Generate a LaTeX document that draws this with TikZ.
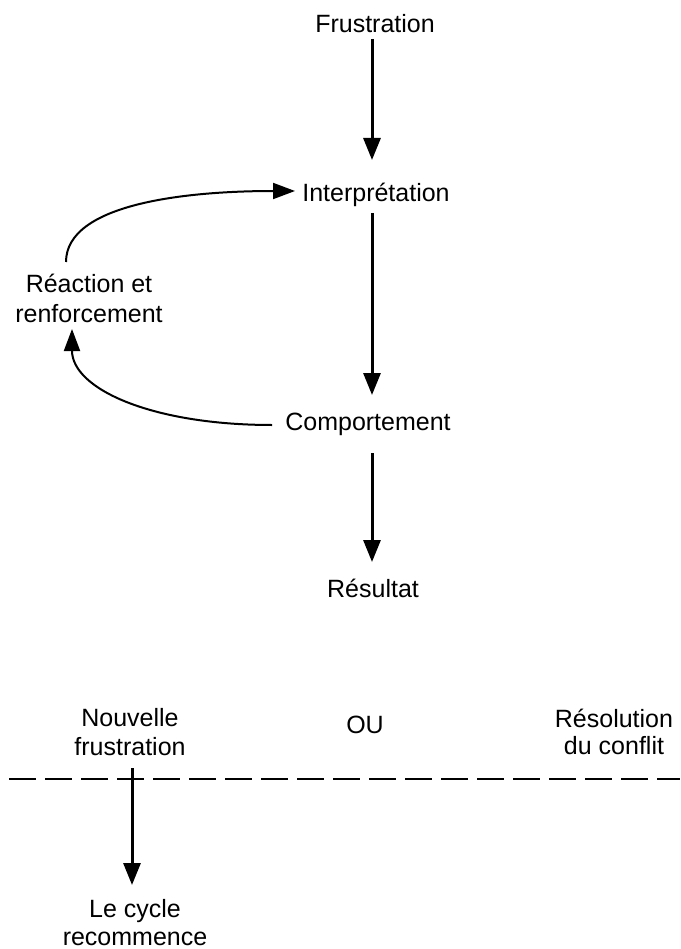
\documentclass[tikz,border=0pt]{standalone}
\usepackage{fontspec}
\setmainfont{Liberation Sans}
\usetikzlibrary{arrows.meta,calc}
\begin{document}
\begin{tikzpicture}[x=1pt,y=-1pt,
  lbl/.style={anchor=base,inner sep=0pt,align=center,font=\fontsize{25}{30}\selectfont},
  arr/.style={line width=3pt,-{Triangle[width=17pt,length=22pt]}},
  carr/.style={line width=2pt,-{Triangle[width=16pt,length=22pt]}},
  sep/.style={line width=2.5pt,dash pattern=on 27pt off 9pt}]
\useasboundingbox[fill=white] (0,0) rectangle (680,949);
\node[lbl] (frus) at (375,33) {Frustration};
\node[lbl] (interp) at (376,202) {Interprétation};
\node[lbl] (comp) at (368,430) {Comportement};
\node[lbl] (res) at (373,597) {Résultat};
\node[lbl] (reac) at (89,322) {Réaction et\\renforcement};
\node[lbl,font=\fontsize{25}{29}\selectfont] (nouv) at (130,755) {Nouvelle\\frustration};
\node[lbl] (ou) at (365,733) {OU};
\node[lbl,font=\fontsize{25}{27}\selectfont] (resol) at (614,754) {Résolution\\du conflit};
\node[lbl,font=\fontsize{25}{28}\selectfont] (cycle) at (135,945) {Le cycle\\recommence};
\coordinate (dl) at (9,779);
\coordinate (dr) at (680,779);
\draw[arr] ($(frus.base)+(-3,6)$) -- ($(interp.base)+(-4,-42)$);
\draw[arr] ($(interp.base)+(-4,11)$) -- ($(comp.base)+(4,-35)$);
\draw[arr] ($(comp.base)+(4,23)$) -- ($(res.base)+(-1,-35)$);
\draw[carr] ($(reac.base)+(-23,-60)$) .. controls +(0,-58) and +(-110,0) .. ($(interp.base)+(-81,-11)$);
\draw[carr] ($(comp.base)+(-96,-5)$) .. controls +(-120,0) and +(0,60) .. ($(reac.base)+(-17,7)$);
\draw[sep] (dl) -- (dr);
\draw[arr] ($(nouv.base)+(2,13)$) -- ($(cycle.base)+(-3,-60)$);
\end{tikzpicture}
\end{document}
